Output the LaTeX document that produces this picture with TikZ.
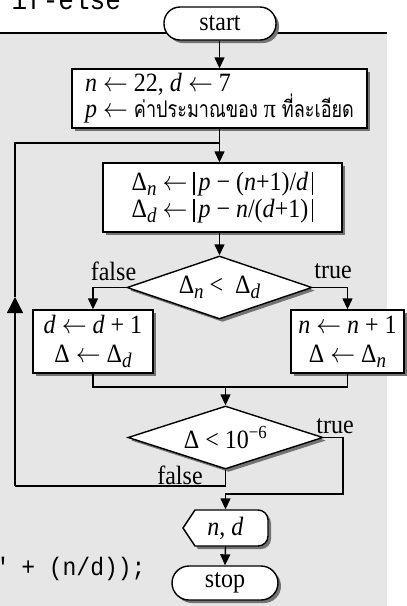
\documentclass[tikz,border=0pt]{standalone}
\usepackage{graphicx}
\usepackage{fontspec}
\setmainfont{Liberation Serif}
\setmonofont{Liberation Mono}
\newfontfamily\thaifont[Script=Thai]{Loma}
\usetikzlibrary{shapes.geometric,shadows,arrows.meta}
\definecolor{bg}{RGB}{230,230,230}
\definecolor{shd}{RGB}{115,115,115}
\newcommand{\vs}[1]{\scalebox{1}[1.1]{#1}}
\newcommand{\sbs}[1]{\raisebox{-0.2em}{\fontsize{19}{19}\selectfont\textit{#1}}}
\newcommand{\absbar}{\raisebox{-4pt}{\rule{1.1pt}{21pt}}}
\newcommand{\asg}{\ensuremath{\leftarrow}}
\newcommand{\thai}[1]{\scalebox{0.95}[1.1]{\thaifont\fontsize{19}{19}\selectfont #1}}
\newcommand{\diagfont}{\fontsize{24}{28}\selectfont\lineskiplimit-100pt\relax}
\begin{document}
\begin{tikzpicture}[x=1pt,y=-1pt,
  font=\diagfont,
  line width=1.4pt,
  shd/.style={drop shadow={shadow xshift=3pt,shadow yshift=-3pt,fill=shd,opacity=1}},
  procbox/.style={draw,fill=white,shd,rectangle,inner sep=0pt,align=center},
  term/.style={draw,fill=white,shd,rectangle,rounded corners=16pt,inner sep=0pt},
  decision/.style={draw,fill=white,shd,diamond,aspect=2.9,inner sep=0pt},
  conn/.style={-{Triangle[length=11pt,width=10pt]}},
  bigconn/.style={-{Triangle[length=16pt,width=16pt]}},
  lbl/.style={inner sep=0pt},
  code/.style={inner sep=0pt,anchor=base west,font=\ttfamily\fontsize{23}{23}\selectfont}
]
\useasboundingbox (0,0) rectangle (407,606);
\fill[bg] (0,33) rectangle (387,606);
\draw[line width=2pt] (0,33) -- (387,33);
\node[code,font=\ttfamily\fontsize{26}{26}\selectfont] (title) at (11,9.5) {\vs{if-else}};
\node[code] (codeline) at (-7,575) {\vs{" + (n/d));}};

% shapes
\node[term, minimum width=112pt, minimum height=33pt] (start) at (220,23.5) {\vs{start}};
\node[procbox, minimum width=295pt, minimum height=59pt, align=left] (init) at (219.5,98.5)
  {\vs{\textit{n} \asg{} 22, \textit{d} \asg{} 7}\\[-2pt]
   \vs{\textit{p} \asg{} \thai{ค่าประมาณของ} π \thai{ที่ละเอียด}}};
\node[procbox, minimum width=239pt, minimum height=69pt] (calc) at (222.5,197.5)
  {\vs{Δ\sbs{n} \asg{} \absbar\,\textit{p} − (\textit{n}+1)/\textit{d}\,\absbar}\\[-1pt]
   \vs{Δ\sbs{d} \asg{} \absbar\,\textit{p} − \textit{n}/(\textit{d}+1)\,\absbar}};
\node[decision, minimum width=185pt, minimum height=63pt] (cmp) at (219.5,287.5)
  {\vs{Δ\sbs{n} <\ \ Δ\sbs{d}}};
\node[procbox, minimum width=120pt, minimum height=63pt] (incd) at (93,341.5)
  {\vs{\textit{d} \asg{} \textit{d} + 1}\\[1pt] \vs{Δ \asg{} Δ\sbs{d}}};
\node[procbox, minimum width=113pt, minimum height=63pt] (incn) at (347.5,341.5)
  {\vs{\textit{n} \asg{} \textit{n} + 1}\\[1pt] \vs{Δ \asg{} Δ\sbs{n}}};
\node[decision, minimum width=195pt, minimum height=63pt] (test) at (225.5,437.5)
  {\vs{Δ < 10\textsuperscript{−6}}};
\draw[fill=white,shd] (183,528) -- (195,510) -- (258,510)
  arc[start angle=90,end angle=0,radius=10pt] -- (268,536)
  arc[start angle=0,end angle=-90,radius=10pt] -- (195,546) -- cycle;
\node[inner sep=0pt, minimum width=85pt, minimum height=36pt] (out) at (225.5,528)
  {\vs{\textit{n}, \textit{d}}};
\node[term, minimum width=106pt, minimum height=34pt, rounded corners=17pt] (stop) at (225,583) {\vs{stop}};

% labels
\node[lbl] (f1) at (113.5,271) {\vs{false}};
\node[lbl] (t1) at (333,271) {\vs{true}};
\node[lbl] (t2) at (335,426) {\vs{true}};
\node[lbl] (f2) at (180,475) {\vs{false}};

% connectors
\coordinate (j1) at (219.5,143);
\coordinate (lt) at (15,143);
\coordinate (lup) at (15,297);
\coordinate (fl) at (15,486);
\coordinate (mrg) at (226,387);
\coordinate (r2) at (343,494);
\draw[conn] (start.south -| init.north) -- (init.north);
\draw[conn] (init.south) -- (init.south |- calc.north);
\draw[conn] (cmp.north |- calc.south) -- (cmp.north);
\draw[conn] (cmp.west) -| (incd.north);
\draw[conn] (cmp.east) -| (incn.north);
\draw (incd.south) -- (incd.south |- mrg) -- (incn.south |- mrg) -- (incn.south);
\draw[conn] (test.north |- mrg) -- (test.north);
\draw[conn] (test.east) -| (r2) -- (out.north |- r2) -- (out.north);
\draw (test.south) -- (test.south |- fl) -- (fl);
\draw[bigconn] (fl) -- (lup);
\draw (lup) -- (lt) -- (j1);
\draw[conn] (out.south) -- (stop.north);
\end{tikzpicture}
\end{document}
